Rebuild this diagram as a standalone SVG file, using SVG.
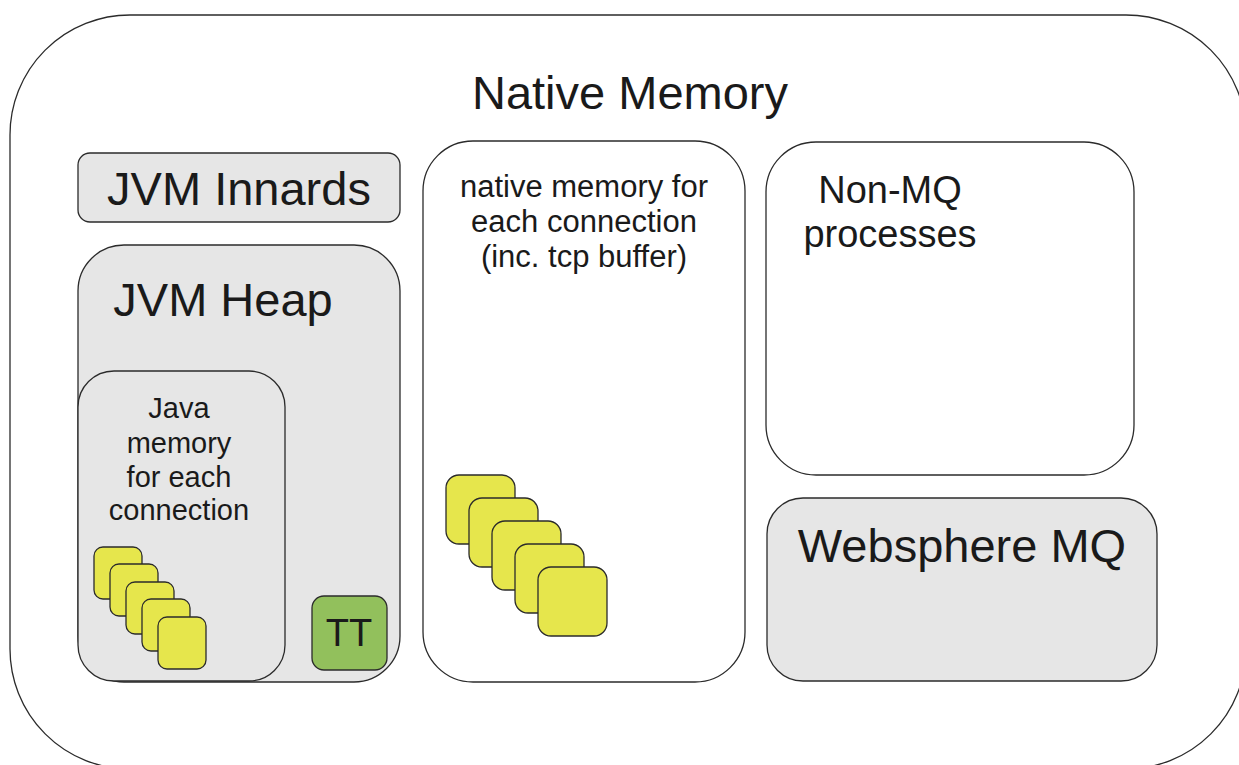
<svg xmlns="http://www.w3.org/2000/svg" width="1239" height="765" viewBox="0 0 1239 765">
  <style>
    .box { stroke: #2b2b2b; stroke-width: 1.3; }
    .white { fill: #ffffff; }
    .grey { fill: #e6e6e6; }
    .chip { fill: #e6e64c; stroke: #2b2b2b; stroke-width: 1.3; }
    .tt { fill: #92c05c; stroke: #2b2b2b; stroke-width: 1.3; }
    text { font-family: "Liberation Sans", Arial, sans-serif; fill: #1a1a1a; text-anchor: middle; }
    .big { font-size: 47px; }
    .mid { font-size: 38px; }
    .small { font-size: 31px; }
    .java { font-size: 29px; }
  </style>
  <defs>
    <rect id="chipS" width="48" height="52" rx="9" class="chip"/>
    <rect id="chipL" width="69" height="69" rx="13" class="chip"/>
  </defs>

  <rect width="1239" height="765" fill="#ffffff"/>

  <!-- outer native memory region -->
  <g id="native-memory">
    <rect class="box white" x="10" y="15" width="1236" height="754" rx="120"/>
    <text class="big" x="630" y="109">Native Memory</text>
  </g>

  <!-- JVM innards -->
  <g id="jvm-innards">
    <rect class="box grey" x="78" y="153" width="322" height="69" rx="12"/>
    <text class="big" x="239" y="205">JVM Innards</text>
  </g>

  <!-- JVM heap with its contents -->
  <g id="jvm-heap">
    <rect class="box grey" x="78" y="245" width="322" height="437" rx="46"/>
    <text class="big" x="223" y="316">JVM Heap</text>
  </g>

  <g id="java-memory">
    <rect class="box grey" x="78" y="371" width="207" height="310" rx="36"/>
    <text class="java" x="179" y="418">Java</text>
    <text class="java" x="179" y="453">memory</text>
    <text class="java" x="179" y="487">for each</text>
    <text class="java" x="179" y="520">connection</text>
    <use href="#chipS" x="94" y="547"/>
    <use href="#chipS" x="110" y="564"/>
    <use href="#chipS" x="126" y="582"/>
    <use href="#chipS" x="142" y="599"/>
    <use href="#chipS" x="158" y="617"/>
  </g>

  <g id="tt">
    <rect class="tt" x="312" y="596" width="75" height="74" rx="12"/>
    <text class="mid" x="349" y="646">TT</text>
  </g>

  <!-- native memory per connection -->
  <g id="native-per-connection">
    <rect class="box white" x="423" y="141" width="322" height="541" rx="50"/>
    <text class="small" x="584" y="197">native memory for</text>
    <text class="small" x="584" y="232">each connection</text>
    <text class="small" x="584" y="267">(inc. tcp buffer)</text>
    <use href="#chipL" x="446" y="475"/>
    <use href="#chipL" x="469" y="498"/>
    <use href="#chipL" x="492" y="521"/>
    <use href="#chipL" x="515" y="544"/>
    <use href="#chipL" x="538" y="567"/>
  </g>

  <!-- other processes -->
  <g id="non-mq">
    <rect class="box white" x="766" y="142" width="368" height="333" rx="50"/>
    <text class="mid" x="890" y="203">Non-MQ</text>
    <text class="mid" x="890" y="247">processes</text>
  </g>

  <g id="websphere-mq">
    <rect class="box grey" x="767" y="498" width="390" height="183" rx="36"/>
    <text class="big" x="962" y="562">Websphere MQ</text>
  </g>
</svg>
